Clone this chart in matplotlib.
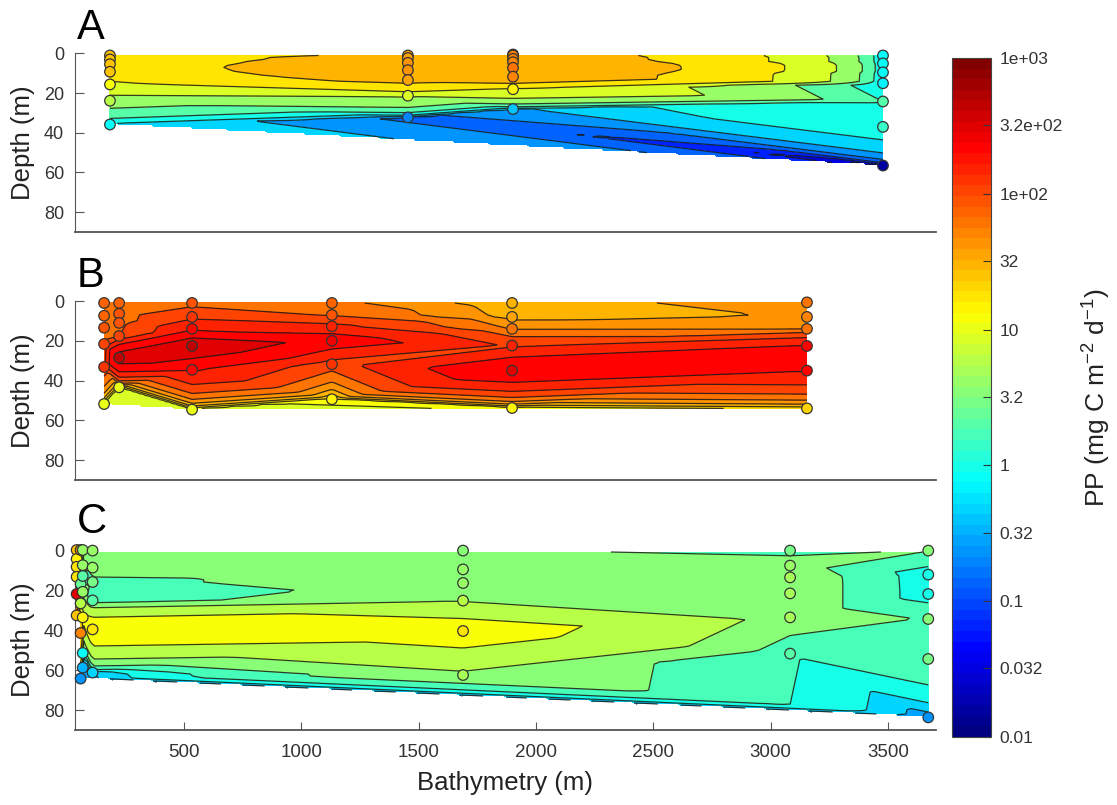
import numpy as np
import matplotlib
matplotlib.use('Agg')
import matplotlib.pyplot as plt
import matplotlib.tri as mtri
from matplotlib.cm import ScalarMappable
from matplotlib.colors import LinearSegmentedColormap, LogNorm

plt.rcParams['font.family'] = ['Liberation Sans', 'DejaVu Sans']
plt.rcParams['mathtext.fontset'] = 'custom'
plt.rcParams['mathtext.rm'] = 'Liberation Sans'
plt.rcParams['mathtext.default'] = 'regular'

# panel A stations: bathymetry (m), sample depths (m), PP values
a_bathy = [184, 1454, 1902, 3479]
a_depth = [
    [1, 3, 5.4, 9.2, 15.6, 23.8, 35.8],
    [1, 2.3, 4.7, 8.4, 13.4, 21.3, 32.2],
    [0.5, 1, 2.7, 4.4, 7.2, 11.7, 18, 28],
    [1, 5, 9.5, 15, 24.2, 37, 56.5],
]
a_pp = [
    [25, 25, 26, 25, 13, 5.5, 0.8],
    [35, 38, 40, 42, 38, 8.5, 0.18],
    [45, 48, 50, 55, 58, 52, 14.5, 0.42],
    [0.8, 0.8, 0.8, 0.7, 2, 1.5, 0.015],
]
a_levels = [0.0078, 0.0156, 0.03125, 0.0625, 0.125, 0.25, 0.5, 1, 2, 4, 8, 16, 32, 64]

# panel B stations
b_bathy = [159, 223, 534, 1130, 1898, 3155]
b_depth = [
    [1, 7.4, 13.4, 21.6, 33.2, 51.8],
    [1, 6.4, 11, 17.6, 28.5, 43.4],
    [1, 8, 14, 22.6, 34.6, 54.6],
    [1, 7, 12.7, 20, 31.8, 49.4],
    [1, 8, 14, 22.4, 35, 53.8],
    [0.7, 8, 14, 22.6, 35, 54],
]
b_pp = [
    [75, 80, 85, 105, 130, 10],
    [75, 85, 88, 100, 420, 11],
    [86, 138, 205, 450, 232, 10],
    [75, 96, 165, 280, 120, 15],
    [31, 38, 65, 140, 320, 14],
    [60, 48, 66, 230, 228, 22],
]
b_levels = [8.9, 13, 20, 30, 45, 67, 100, 150, 224, 335, 500, 750]

# panel C stations
c_bathy = [42, 59, 68, 110, 1689, 3083, 3672]
c_depth = [
    [0, 4.5, 8.4, 13.4, 22, 32.7],
    [0, 17, 26.7, 41.5, 64.3],
    [0, 7.6, 13, 20.9, 33.7, 51.5, 58.8],
    [0.3, 8.8, 16, 25.2, 39.7, 61.3],
    [0.3, 9.7, 16.5, 25.3, 40.5, 62.5],
    [0.3, 7.8, 13.7, 21.7, 33.7, 51.8],
    [0.3, 12.3, 22, 34.5, 54.5, 83.7],
]
c_pp = [
    [25, 15, 18, 18, 300, 25],
    [40, 2.5, 6, 50, 0.25],
    [4.5, 4.5, 2, 4.5, 14, 0.8, 0.35],
    [4.5, 4.2, 2.9, 2, 19, 0.5],
    [3.5, 4.4, 4.4, 6, 16, 5.4],
    [2.9, 4.2, 4.8, 4.8, 4.8, 1.9],
    [3.4, 0.96, 1.0, 3.2, 3, 0.25],
]
c_levels = [0.14, 0.27, 0.5, 0.94, 1.78, 3.35, 6.3, 11.9, 22.4, 42, 80, 150, 282, 530]

cb_ticks = [0.01, 0.032, 0.1, 0.32, 1, 3.2, 10, 32, 100, 320, 1000]
cb_labels = ['0.01', '0.032', '0.1', '0.32', '1', '3.2', '10', '32',
             '1e+02', '3.2e+02', '1e+03']
x_ticks = [500, 1000, 1500, 2000, 2500, 3000, 3500]
y_ticks = [0, 20, 40, 60, 80]

W, H = 1117, 805
SPINE = '#555555'


def px_axes(fig, left, right, top, bottom):
    '''Adds an axes from pixel edges measured from the top left of the figure.'''
    return fig.add_axes([left / W, 1 - bottom / H, (right - left) / W, (bottom - top) / H])


def matlab_jet():
    '''Jet as MATLAB builds it, it is not quite the matplotlib one.'''
    anchors = [(0, (0, 0, 0.5)), (0.125, (0, 0, 1)), (0.375, (0, 1, 1)),
               (0.625, (1, 1, 0)), (0.875, (1, 0, 0)), (1, (0.5, 0, 0))]
    return LinearSegmentedColormap.from_list('matlab_jet', anchors, N=64)


def section(ax, bathy, depth, pp, levels, cmap, norm):
    '''
    Interpolates the stations onto a regular grid and draws filled contours,
    then the sample points on top. Each band takes the colour of its lower level.

    PARAMETERS
    bathy: station positions
    depth: list of sample depths per station
    pp: list of values per station
    levels: contour levels of this panel
    '''
    xs = np.concatenate([[b] * len(d) for b, d in zip(bathy, depth)])
    ys = np.concatenate(depth)
    vs = np.concatenate(pp)

    # interpolation is linear in PP, the levels are log spaced
    tri = mtri.Triangulation(xs, ys)
    interp = mtri.LinearTriInterpolator(tri, vs)
    grid_x, grid_y = np.meshgrid(np.linspace(xs.min(), xs.max(), 240),
                                 np.arange(0, ys.max() + 1, 1.0))
    grid_v = interp(grid_x, grid_y)

    colors = [cmap(norm(v)) for v in levels[:-1]]
    ax.contourf(grid_x, grid_y, grid_v, levels=levels, colors=colors, zorder=1)
    ax.contour(grid_x, grid_y, grid_v, levels=levels, colors='#1a1a1a',
               linewidths=0.9, alpha=0.85, zorder=2)
    ax.scatter(xs, ys, c=vs, cmap=cmap, norm=norm, s=58, edgecolors='#333333',
               linewidths=0.9, clip_on=False, zorder=3)

    ax.set_xlim(35, 3705)
    ax.set_ylim(90, 0)
    ax.set_yticks(y_ticks)
    ax.set_ylabel('Depth (m)', fontsize=18.5, labelpad=6, color='#222222')
    ax.spines['top'].set_visible(False)
    ax.spines['right'].set_visible(False)
    ax.spines['left'].set_color(SPINE)
    ax.spines['bottom'].set_color(SPINE)
    ax.spines['bottom'].set_linewidth(1.3)
    ax.tick_params(axis='y', direction='in', length=6.5, color=SPINE, labelsize=13,
                   labelcolor='#333333', pad=8)
    ax.tick_params(axis='x', direction='in', length=6, color=SPINE, labelsize=13.5,
                   labelcolor='#333333', pad=10)


def main():
    fig = plt.figure(figsize=(W / 100, H / 100), dpi=100)
    cmap = matlab_jet()
    norm = LogNorm(vmin=0.01, vmax=1000)

    ax_a = px_axes(fig, 75, 936, 53.5, 232)
    ax_b = px_axes(fig, 75, 936, 301, 480)
    ax_c = px_axes(fig, 75, 936, 550, 730)

    section(ax_a, a_bathy, a_depth, a_pp, a_levels, cmap, norm)
    section(ax_b, b_bathy, b_depth, b_pp, b_levels, cmap, norm)
    section(ax_c, c_bathy, c_depth, c_pp, c_levels, cmap, norm)

    ax_a.set_xticks([])
    ax_b.set_xticks([])
    ax_c.set_xticks(x_ticks)
    ax_c.set_xlabel('Bathymetry (m)', fontsize=18.5, labelpad=7, color='#222222')

    fig.text(77 / W, 1 - 39 / H, 'A', fontsize=30, color='black')
    fig.text(77 / W, 1 - 287 / H, 'B', fontsize=30, color='black')
    fig.text(77 / W, 1 - 533 / H, 'C', fontsize=30, color='black')

    cax = px_axes(fig, 952, 991, 58, 737)
    cb = fig.colorbar(ScalarMappable(norm=norm, cmap=cmap), cax=cax)
    cb.set_ticks(cb_ticks)
    cb.set_ticklabels(cb_labels)
    cb.ax.minorticks_off()
    cb.ax.tick_params(direction='in', length=6, width=0.8, color='#333333',
                      labelsize=12.5, labelcolor='#333333', pad=6)
    cb.outline.set_edgecolor('#444444')
    cb.outline.set_linewidth(0.8)

    fig.text(1097 / W, 1 - 398 / H, 'PP (mg C m$^{-2}$ d$^{-1}$)', rotation=90,
             ha='center', va='center', fontsize=19, color='#222222')

    fig.savefig('out.png', dpi=100)


if __name__ == "__main__":
    main()
